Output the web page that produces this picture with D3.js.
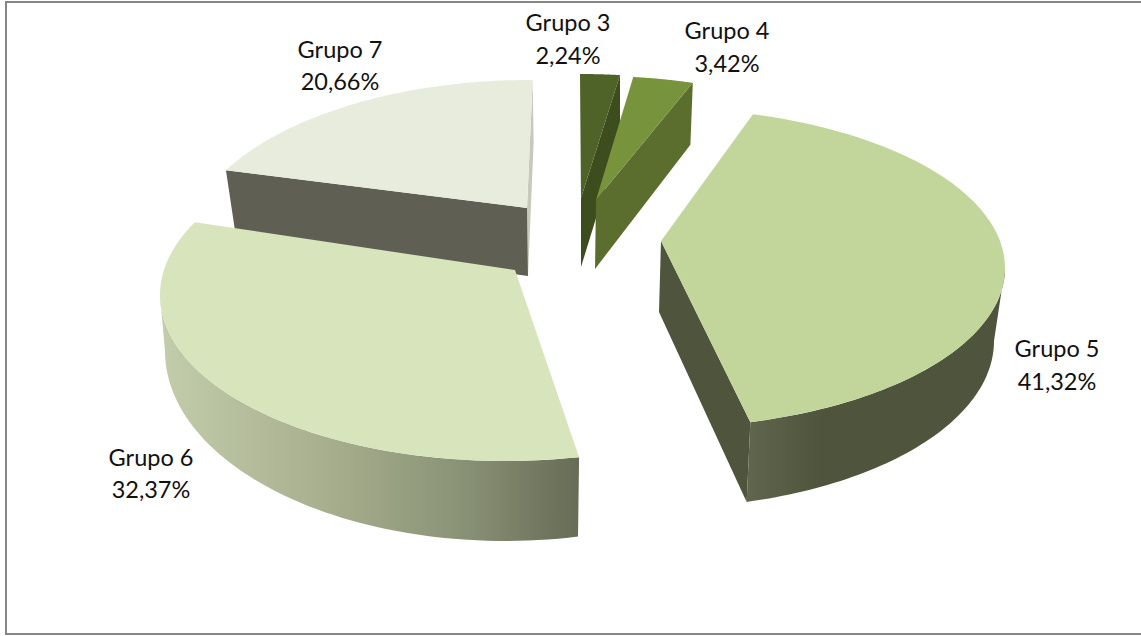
<!DOCTYPE html>
<html><head><meta charset="utf-8">
<script src="https://cdn.jsdelivr.net/npm/d3@7/dist/d3.min.js"></script>
<style>html,body{margin:0;padding:0;background:#fff}svg{display:block}text{font-family:"Lato","Open Sans",sans-serif;font-size:23.5px;fill:#111}</style>
</head><body><svg id="c" width="1141" height="636"></svg>
<script>
const categories = ["Grupo 3","Grupo 4","Grupo 5","Grupo 6","Grupo 7"];
const values = [2.24,3.42,41.32,32.37,20.66];
const percentLabels = ["2,24%","3,42%","41,32%","32,37%","20,66%"];
const topColors = ["#4f6228","#77933c","#c2d69b","#d7e4bc","#e8ecdc"];
const wallColors = ["#3e4d1e","#5c6e2e","#4f543c","#6a705a","#5f5f54"];

// Perspective layout of each exploded slice (screen-space ellipses of its top and bottom faces)
const views = [
 {spin:0,   stretch:.826, top:[580,234,345,160], bot:[580,299,345,160], apex:[581,198], apexB:[581,267]},
 {spin:6.2, stretch:.82,  top:[596,246,345,170], bot:[595,308,340,170], apex:[596,200], apexB:[595,269]},
 {spin:16,  stretch:.998, top:[657,268,348,160], bot:[656,341,338,167], apex:[661,241], apexB:[659,312]},
 {spin:167.6,stretch:1.102,top:[505,295,345,166], bot:[505,351,340,190], apex:[515,270], apexB:[515,340]},
 {spin:298.2,stretch:.837,top:[530,251,345,171], bot:[531,319,335,176], apex:[527,208], apexB:[528,276]}
];
const labelPos = [[568,31,64],[727,39,72],[1057,357,390],[151,466,498],[340,58,90]];

const svg = d3.select("#c");
const defs = svg.append("defs");
const g5 = defs.append("linearGradient").attr("id","wall5").attr("gradientUnits","userSpaceOnUse").attr("x1",748).attr("x2",820).attr("y1",0).attr("y2",0);
[[0,"#60654d"],[1,"#4f543c"]].forEach(s=>g5.append("stop").attr("offset",s[0]).attr("stop-color",s[1]));
const g6 = defs.append("linearGradient").attr("id","wall6").attr("gradientUnits","userSpaceOnUse").attr("x1",165).attr("x2",579).attr("y1",0).attr("y2",0);
[[0,"#c2cbaa"],[.4,"#a6ae8d"],[.7,"#8c9478"],[1,"#666c55"]].forEach(s=>g6.append("stop").attr("offset",s[0]).attr("stop-color",s[1]));

// frame
svg.append("rect").attr("x",6).attr("y",2).attr("width",1140).attr("height",632).attr("fill","none").attr("stroke","#868686").attr("stroke-width",2);

const slices = d3.pie().sort(null).value(d=>d)(values);
const rad = Math.PI/180;
const pt = (e,deg)=>[e[0]+e[2]*Math.sin(deg*rad), e[1]-e[3]*Math.cos(deg*rad)];
const sweep = i=>{const v=views[i],s=slices[i];
  const a0=v.spin, a1=v.spin+(s.endAngle-s.startAngle)/rad*v.stretch; return [a0,a1];};
const line = d3.line();
const arcPts = (e,a,b)=>d3.range(0,61).map(k=>pt(e,a+(b-a)*k/60));
const face = (i,sel)=>{const v=views[i],[a,b]=sweep(i);
  sel.append("path").attr("d",line([v.apex,...arcPts(v.top,a,b)])+"Z").attr("fill",topColors[i]);};
const sideWall = (i,deg,fill,sel)=>{const v=views[i];
  sel.append("path").attr("d",line([v.apex,pt(v.top,deg),pt(v.bot,deg),v.apexB])+"Z").attr("fill",fill);};
const outerWall = (i,a,b,fill,sel)=>{const v=views[i];
  sel.append("path").attr("d",line([...arcPts(v.top,a,b),...arcPts(v.bot,b,a)])+"Z").attr("fill",fill);};

const layer = svg.append("g");
// Grupo 7
{const [a,b]=sweep(4); sideWall(4,b,"#c7cabb",layer); sideWall(4,a,wallColors[4],layer); face(4,layer);}
// Grupo 6
{const [a,b]=sweep(3); outerWall(3,a,270,"url(#wall6)",layer); face(3,layer);}
// Grupo 5
{const [a,b]=sweep(2); sideWall(2,b,wallColors[2],layer); outerWall(2,90,b,"url(#wall5)",layer); face(2,layer);}
// Grupo 3
{const [a,b]=sweep(0); sideWall(0,b,wallColors[0],layer); face(0,layer);}
// Grupo 4
{const [a,b]=sweep(1); sideWall(1,b,wallColors[1],layer); face(1,layer);}

const labels = svg.append("g").selectAll("text").data(categories).join("text")
  .attr("text-anchor","middle");
labels.append("tspan").attr("x",(d,i)=>labelPos[i][0]).attr("y",(d,i)=>labelPos[i][1]).text(d=>d);
labels.append("tspan").attr("x",(d,i)=>labelPos[i][0]).attr("y",(d,i)=>labelPos[i][2]).text((d,i)=>percentLabels[i]);
</script></body></html>
